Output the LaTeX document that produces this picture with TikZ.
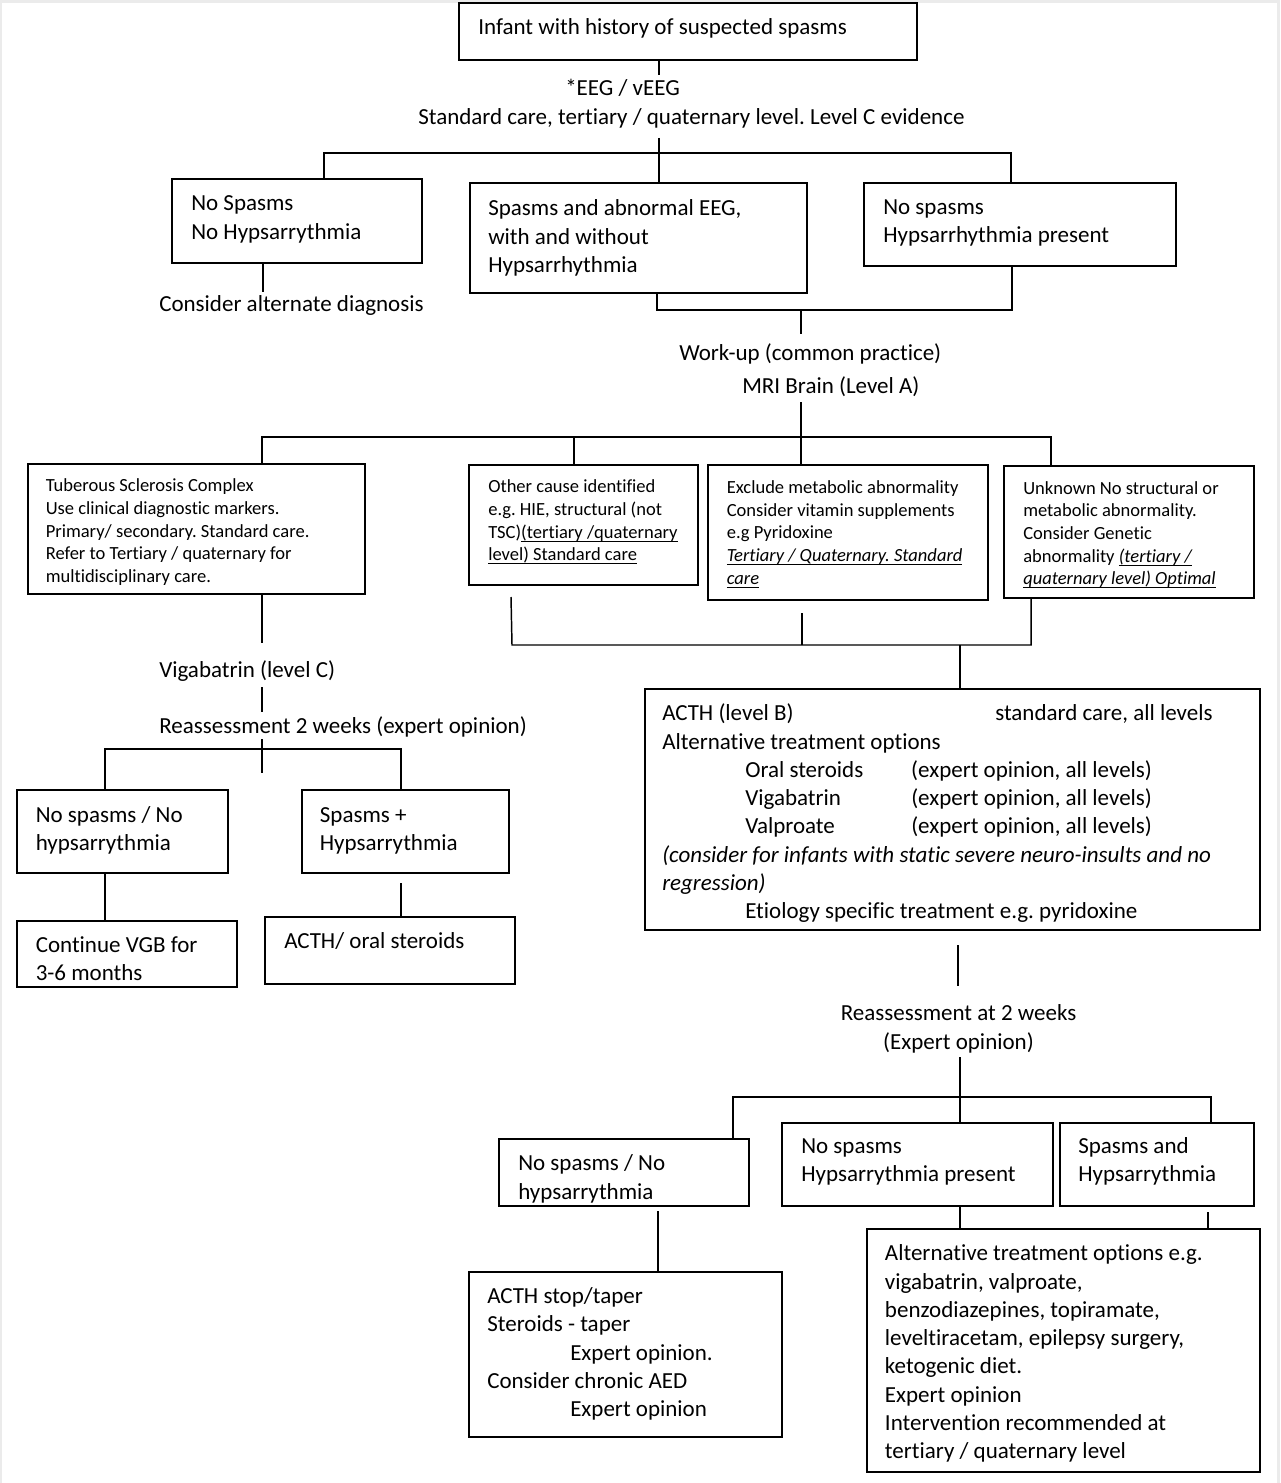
\documentclass[tikz,border=0pt]{standalone}
\usepackage{fontspec}
\setmainfont{Carlito}[Ligatures={NoCommon,NoRequired,NoContextual}]
\frenchspacing
\usetikzlibrary{fit}
\newcommand\bigf{\fontsize{17.25}{21.2}\selectfont}
\newcommand\smallf{\fontsize{13.9}{17}\selectfont}
\newcommand\myul[1]{\setbox0\hbox{#1}\rlap{\rule[-2.6pt]{\wd0}{0.75pt}}\box0}
\definecolor{framegray}{HTML}{EBEBEB}
\tikzset{
  box/.style={draw, line width=1.4pt, inner sep=0pt},
  txt/.style={anchor=north west, inner sep=0pt, align=left, font=\bigf},
  stxt/.style={anchor=north west, inner sep=0pt, align=left, font=\smallf},
  conn/.style={line width=1.1pt},
}
\begin{document}
\begin{tikzpicture}[x=0.75pt, y=-0.75pt]
\useasboundingbox (0,0) rectangle (1280,1483);
\fill[framegray] (0,0) rectangle (1280,1483);
\fill[white] (2,3) rectangle (1277,1483);

% ---------- boxes ----------
\node[box, fit={(459,3) (917,60)}] (top) {};
\node[box, fit={(172,179) (422,263)}] (A) {};
\node[box, fit={(470,183) (807,293)}] (B) {};
\node[box, fit={(864,183) (1176,266)}] (C) {};
\node[box, fit={(28,464) (365,594)}] (TSC) {};
\node[box, fit={(469,465) (698,585)}] (Other) {};
\node[box, fit={(708,465) (988,600)}] (Excl) {};
\node[box, fit={(1004,466) (1254,598)}] (Unk) {};
\node[box, fit={(17,790) (228,873)}] (NoSpA) {};
\node[box, fit={(302,790) (509,873)}] (SpA) {};
\node[box, fit={(17,921) (237,987)}] (Cont) {};
\node[box, fit={(265,917) (515,984)}] (ACTHoral) {};
\node[box, fit={(645,689) (1260,930)}] (ACTH) {};
\node[box, fit={(499,1139) (749,1206)}] (NoSpB) {};
\node[box, fit={(782,1123) (1053,1206)}] (NoSpC) {};
\node[box, fit={(1060,1123) (1254,1206)}] (SpH) {};
\node[box, fit={(469,1272) (782,1437)}] (Stop) {};
\node[box, fit={(867,1229) (1260,1472)}] (Alt) {};

% ---------- texts ----------
\node[txt] (t0) at (478,14.7) {\strut Infant with history of suspected spasms};
\node[txt] (eeg) at (565,75.7) {\strut *EEG / vEEG};
\node[txt] (std) at (418,104.2) {\strut Standard care, tertiary / quaternary level. Level C evidence};
\node[txt] (tA) at (191,190.7) {\strut No Spasms\\No Hypsarrythmia};
\node[txt] (altdiag) at (159,291.7) {\strut Consider alternate diagnosis};
\node[txt] (tB) at (488,195.7) {\strut Spasms and abnormal EEG,\\with and without\\Hypsarrhythmia};
\node[txt] (tC) at (883,194) {\strut No spasms\\Hypsarrhythmia present};
\node[txt] (work) at (679,340.7) {\strut Work-up (common practice)};
\node[txt] (mri) at (742,373.7) {\strut MRI Brain (Level A)};

\node[stxt] (tTSC) at (45.5,475.6) {\strut Tuberous Sclerosis Complex\\Use clinical diagnostic markers.\\Primary/ secondary. Standard care.\\Refer to Tertiary / quaternary for\\multidisciplinary care.};
\node[stxt] (tOther) at (488,476.6) {\strut Other cause identified\\e.g. HIE, structural (not\\TSC)\myul{(tertiary /quaternary}\\\myul{level) Standard care}};
\node[stxt] (tExcl) at (726.5,477.3) {\strut Exclude metabolic abnormality\\Consider vitamin supplements\\e.g Pyridoxine\\\myul{\itshape Tertiary / Quaternary. Standard}\\\myul{\itshape care}};
\node[stxt] (tUnk) at (1023,477.9) {\strut Unknown No structural or\\metabolic abnormality.\\Consider Genetic\\abnormality \myul{\itshape (tertiary /}\\\myul{\itshape quaternary level) Optimal}};

\node[txt] (vig) at (159,657.4) {\strut Vigabatrin (level C)};
\node[txt] (reassA) at (159,713.7) {\strut Reassessment 2 weeks (expert opinion)};
\node[txt] (tNoSpA) at (35.5,802.4) {\strut No spasms / No\\hypsarrythmia};
\node[txt] (tSpA) at (319.6,802.4) {\strut Spasms +\\Hypsarrythmia};
\node[txt] (tCont) at (35.5,932.4) {\strut Continue VGB for\\3-6 months};
\node[txt] (tACTHoral) at (284,928.7) {\strut ACTH/ oral steroids};

\node[txt] (tACTH) at (662,700.7) {\strut \makebox[249.75pt][l]{ACTH (level B)}standard care, all levels\\
Alternative treatment options\\
\hspace*{62.25pt}\makebox[124.5pt][l]{Oral steroids}(expert opinion, all levels)\\
\hspace*{62.25pt}\makebox[124.5pt][l]{Vigabatrin}(expert opinion, all levels)\\
\hspace*{62.25pt}\makebox[124.5pt][l]{Valproate}(expert opinion, all levels)\\
\textit{(consider for infants with static severe neuro-insults and no}\\
\textit{regression)}\\
\hspace*{62.25pt}Etiology specific treatment e.g. pyridoxine};

\node[txt, anchor=north, align=center] (reassB) at (958.5,1000.7) {\strut Reassessment at 2 weeks\\(Expert opinion)};
\node[txt] (tNoSpB) at (518,1150.7) {\strut No spasms / No\\hypsarrythmia};
\node[txt] (tNoSpC) at (801,1133.4) {\strut No spasms\\Hypsarrythmia present};
\node[txt] (tSpH) at (1078,1133.4) {\strut Spasms and\\Hypsarrythmia};
\node[txt] (tStop) at (487,1283.4) {\strut ACTH stop/taper\\Steroids - taper\\\hspace*{62.25pt}Expert opinion.\\Consider chronic AED\\\hspace*{62.25pt}Expert opinion};
\node[txt] (tAlt) at (884.7,1240.7) {\strut Alternative treatment options e.g.\\vigabatrin, valproate,\\benzodiazepines, topiramate,\\leveltiracetam, epilepsy surgery,\\ketogenic diet.\\Expert opinion\\Intervention recommended at\\tertiary / quaternary level};

% ---------- connector coordinates ----------
\coordinate (j0) at (659,75);
\coordinate (jA) at (659,138);
\coordinate (hL) at (324,153);
\coordinate (hR) at (1011,153);
\coordinate (cA) at (263,292);
\coordinate (bL) at (657,310);
\coordinate (bR) at (1012,310);
\coordinate (w0) at (801,310);
\coordinate (w1) at (801,334);
\coordinate (m0) at (801,402);
\coordinate (m1) at (801,437);
\coordinate (gL) at (262,437);
\coordinate (g2) at (574,437);
\coordinate (gR) at (1051,437);
\coordinate (v0) at (262,643);
\coordinate (v1) at (262,687);
\coordinate (v2) at (262,712);
\coordinate (r0) at (262,739);
\coordinate (r1) at (262,773);
\coordinate (kL) at (105,749);
\coordinate (kR) at (401,749);
\coordinate (s1) at (401,883);
\coordinate (oL0) at (511,597);
\coordinate (oL) at (512,645);
\coordinate (oM0) at (802,613);
\coordinate (oM) at (802,645);
\coordinate (oR) at (1031,645);
\coordinate (oC) at (960,645);
\coordinate (p0) at (958,945);
\coordinate (p1) at (958,986);
\coordinate (q0) at (960,1057);
\coordinate (qL) at (733,1097);
\coordinate (qR) at (1211,1097);
\coordinate (u0) at (658,1211);
\coordinate (z0) at (1208,1212);

% ---------- connectors ----------
\draw[conn] (j0 |- top.south) -- (j0);
\draw[conn] (jA) -- (jA |- B.north);
\draw[conn] (hL |- A.north) -- (hL) -- (hR) -- (hR |- C.north);
\draw[conn] (cA |- A.south) -- (cA);
\draw[conn] (bL |- B.south) -- (bL) -- (bR) -- (bR |- C.south);
\draw[conn] (w0) -- (w1);
\draw[conn] (m0) -- (m1);
\draw[conn] (gL |- TSC.north) -- (gL) -- (gR) -- (gR |- Unk.north);
\draw[conn] (g2) -- (g2 |- Other.north);
\draw[conn] (m1) -- (m1 |- Excl.north);
\draw[conn] (v0 |- TSC.south) -- (v0);
\draw[conn] (v1) -- (v2);
\draw[conn] (r0) -- (r1);
\draw[conn] (kL |- NoSpA.north) -- (kL) -- (kR) -- (kR |- SpA.north);
\draw[conn] (kL |- NoSpA.south) -- (kL |- Cont.north);
\draw[conn] (s1) -- (s1 |- ACTHoral.north);
\draw[conn] (oL0) -- (oL) -- (oR) -- (oR |- Unk.south);
\draw[conn] (oM0) -- (oM);
\draw[conn] (oC) -- (oC |- ACTH.north);
\draw[conn] (p0) -- (p1);
\draw[conn] (q0) -- (q0 |- NoSpC.north);
\draw[conn] (qL |- NoSpB.north) -- (qL) -- (qR) -- (qR |- SpH.north);
\draw[conn] (u0) -- (u0 |- Stop.north);
\draw[conn] (q0 |- NoSpC.south) -- (q0 |- Alt.north);
\draw[conn] (z0) -- (z0 |- Alt.north);
\end{tikzpicture}
\end{document}
